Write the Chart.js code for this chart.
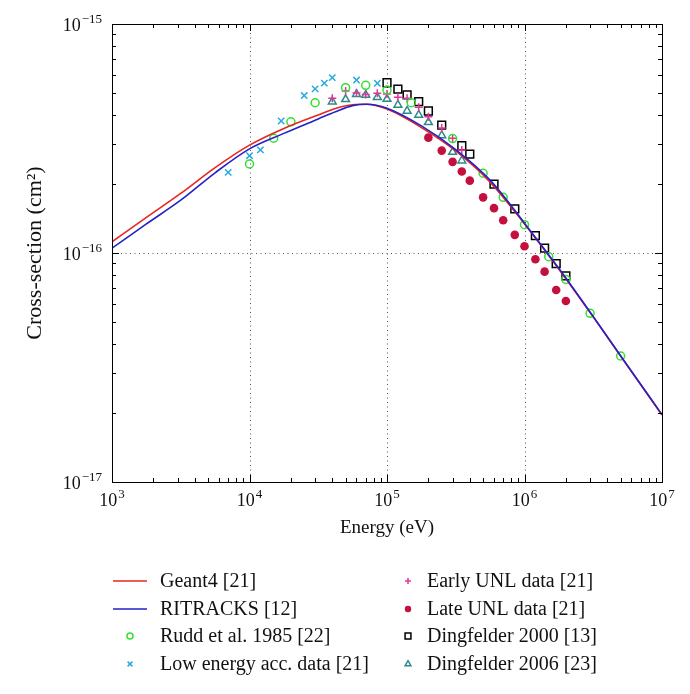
<!DOCTYPE html>
<html lang="en">
<head>
    <meta charset="UTF-8">
    <title>Ionization cross-section vs energy</title>
    <script src="https://cdn.jsdelivr.net/npm/chart.js"></script>
    <style>
        body { margin: 0; background: #fff; }
        #wrap { width: 690px; height: 694px; }
    </style>
</head>
<body>
<div id="wrap"><canvas id="xsChart" width="690" height="694"></canvas></div>
<script>
    // --- Data (energy in eV, cross-section in cm^2) ---
    const curveEnergy = [1e3, 1.78e3, 3.16e3, 5.62e3, 1e4, 1.78e4, 3.16e4, 4.22e4, 5.62e4, 7.08e4, 1e5, 1.78e5, 3.16e5, 5.62e5, 1e6, 1.78e6, 3.16e6, 5.62e6, 1e7];
    const geant4XS = [1.12e-16, 1.43e-16, 1.82e-16, 2.36e-16, 2.96e-16, 3.50e-16, 4.01e-16, 4.28e-16, 4.44e-16, 4.46e-16, 4.25e-16, 3.53e-16, 2.79e-16, 2.04e-16, 1.34e-16, 8.5e-17, 5.26e-17, 3.21e-17, 1.96e-17];
    const ritracksXS = [1.05e-16, 1.34e-16, 1.70e-16, 2.24e-16, 2.85e-16, 3.33e-16, 3.85e-16, 4.14e-16, 4.40e-16, 4.46e-16, 4.29e-16, 3.59e-16, 2.83e-16, 2.08e-16, 1.35e-16, 8.55e-17, 5.28e-17, 3.22e-17, 1.97e-17];

    const ruddE = [1e4, 1.5e4, 2e4, 3e4, 5e4, 7e4, 1e5, 1.5e5, 3e5, 5e5, 7e5, 1e6, 1.5e6, 2e6, 3e6, 5e6];
    const ruddXS = [2.45e-16, 3.17e-16, 3.74e-16, 4.53e-16, 5.27e-16, 5.40e-16, 5.15e-16, 4.53e-16, 3.16e-16, 2.23e-16, 1.75e-16, 1.33e-16, 9.64e-17, 7.67e-17, 5.45e-17, 3.55e-17];

    const lowAccE = [7e3, 1e4, 1.2e4, 1.7e4, 2.5e4, 3e4, 3.5e4, 4e4, 6e4, 8.5e4];
    const lowAccXS = [2.25e-16, 2.66e-16, 2.82e-16, 3.77e-16, 4.87e-16, 5.21e-16, 5.52e-16, 5.83e-16, 5.69e-16, 5.51e-16];

    const earlyUnlE = [4e4, 5e4, 6e4, 7e4, 8.5e4, 1e5, 1.2e5, 1.4e5, 1.7e5, 2e5, 2.5e5, 3e5, 3.5e5];
    const earlyUnlXS = [4.74e-16, 5.10e-16, 5.00e-16, 4.92e-16, 4.98e-16, 4.95e-16, 4.79e-16, 4.74e-16, 4.33e-16, 3.94e-16, 3.51e-16, 3.17e-16, 2.82e-16];

    const lateUnlE = [2e5, 2.5e5, 3e5, 3.5e5, 4e5, 5e5, 6e5, 7e5, 8.5e5, 1e6, 1.2e6, 1.4e6, 1.7e6, 2e6];
    const lateUnlXS = [3.19e-16, 2.80e-16, 2.50e-16, 2.27e-16, 2.07e-16, 1.75e-16, 1.57e-16, 1.39e-16, 1.20e-16, 1.07e-16, 9.39e-17, 8.29e-17, 6.89e-17, 6.17e-17];

    const ding2000E = [1e5, 1.2e5, 1.4e5, 1.7e5, 2e5, 2.5e5, 3.5e5, 4e5, 6e5, 8.5e5, 1.2e6, 1.4e6, 1.7e6, 2e6];
    const ding2000XS = [5.54e-16, 5.19e-16, 4.90e-16, 4.58e-16, 4.17e-16, 3.62e-16, 2.94e-16, 2.70e-16, 2.00e-16, 1.56e-16, 1.19e-16, 1.05e-16, 8.98e-17, 7.94e-17];

    const ding2006E = [4e4, 5e4, 6e4, 7e4, 8.5e4, 1e5, 1.2e5, 1.4e5, 1.7e5, 2e5, 2.5e5, 3e5, 3.5e5];
    const ding2006XS = [4.58e-16, 4.69e-16, 4.94e-16, 4.90e-16, 4.79e-16, 4.70e-16, 4.43e-16, 4.17e-16, 4.01e-16, 3.72e-16, 3.26e-16, 2.76e-16, 2.53e-16];

    // tick labels: decades only, written as base + exponent
    const xTickExp = [3, 4, 5, 6, 7];
    const yTickExp = [-17, -16, -15];

    const SERIF = '"Liberation Serif", "DejaVu Serif", serif';

    function pts(xs, ys) {
        return xs.map((x, i) => ({ x: x, y: ys[i] }));
    }

    function supText(n) {
        return String(n).replace('-', '\u2212');
    }

    // "10" with a raised exponent, anchored centre or right
    function drawPow(ctx, exp, x, y, align) {
        ctx.font = '18px ' + SERIF;
        const wb = ctx.measureText('10').width;
        ctx.font = '13px ' + SERIF;
        const e = supText(exp);
        const we = ctx.measureText(e).width;
        const x0 = align === 'right' ? x - wb - we - 1 : x - (wb + we + 1) / 2;
        ctx.textAlign = 'left';
        ctx.textBaseline = 'alphabetic';
        ctx.font = '18px ' + SERIF;
        ctx.fillText('10', x0, y);
        ctx.font = '13px ' + SERIF;
        ctx.fillText(e, x0 + wb + 1, y - 8);
    }

    // --- Frame, inside ticks, dotted decade grid, labels and legend ---
    const framePlugin = {
        id: 'frame',
        beforeDatasetsDraw(chart) {
            const { ctx, chartArea: a, scales: { x, y } } = chart;
            ctx.save();
            ctx.strokeStyle = '#555';
            ctx.lineWidth = 1;
            ctx.setLineDash([1, 3.5]);
            xTickExp.slice(1, -1).forEach(p => {
                const px = Math.round(x.getPixelForValue(Math.pow(10, p))) + 0.5;
                ctx.beginPath(); ctx.moveTo(px, a.top); ctx.lineTo(px, a.bottom); ctx.stroke();
            });
            yTickExp.slice(1, -1).forEach(p => {
                const py = Math.round(y.getPixelForValue(Math.pow(10, p))) + 0.5;
                ctx.beginPath(); ctx.moveTo(a.left, py); ctx.lineTo(a.right, py); ctx.stroke();
            });
            ctx.restore();
        },
        afterDraw(chart) {
            const { ctx, chartArea: a, scales: { x, y } } = chart;
            ctx.save();
            ctx.strokeStyle = '#000';
            ctx.lineWidth = 1;
            ctx.setLineDash([]);
            ctx.strokeRect(Math.round(a.left) + 0.5, Math.round(a.top) + 0.5,
                Math.round(a.right - a.left), Math.round(a.bottom - a.top));

            // minor/major ticks on all four sides, pointing inward
            ctx.beginPath();
            for (let p = xTickExp[0]; p < xTickExp[xTickExp.length - 1] + 1; p++) {
                for (let k = 1; k <= 9; k++) {
                    const v = k * Math.pow(10, p);
                    if (v > x.max * 1.0001) break;
                    const len = k === 1 ? 7 : 4;
                    const px = Math.round(x.getPixelForValue(v)) + 0.5;
                    ctx.moveTo(px, a.bottom); ctx.lineTo(px, a.bottom - len);
                    ctx.moveTo(px, a.top); ctx.lineTo(px, a.top + len);
                }
            }
            for (let p = yTickExp[0]; p < yTickExp[yTickExp.length - 1] + 1; p++) {
                for (let k = 1; k <= 9; k++) {
                    const v = k * Math.pow(10, p);
                    if (v > y.max * 1.0001) break;
                    const len = k === 1 ? 7 : 4;
                    const py = Math.round(y.getPixelForValue(v)) + 0.5;
                    ctx.moveTo(a.left, py); ctx.lineTo(a.left + len, py);
                    ctx.moveTo(a.right, py); ctx.lineTo(a.right - len, py);
                }
            }
            ctx.stroke();

            // tick labels
            ctx.fillStyle = '#111';
            xTickExp.forEach(p => drawPow(ctx, p, x.getPixelForValue(Math.pow(10, p)), a.bottom + 24, 'center'));
            yTickExp.forEach(p => drawPow(ctx, p, a.left - 10, y.getPixelForValue(Math.pow(10, p)) + 7, 'right'));

            // axis titles
            ctx.font = '19px ' + SERIF;
            ctx.textAlign = 'center';
            ctx.fillText('Energy (eV)', (a.left + a.right) / 2, 533);
            ctx.save();
            ctx.translate(41, (a.top + a.bottom) / 2);
            ctx.rotate(-Math.PI / 2);
            ctx.font = '22px ' + SERIF;
            ctx.fillText('Cross-section (cm\u00B2)', 0, 0);
            ctx.restore();

            // legend in two columns of four
            const cols = [{ mark: 130, text: 160 }, { mark: 408, text: 427 }];
            const rows = [581, 609, 636, 664];
            chart.data.datasets.forEach((ds, i) => {
                const c = cols[Math.floor(i / 4)];
                const ry = rows[i % 4];
                ctx.strokeStyle = ds.borderColor;
                ctx.lineWidth = ds.borderWidth;
                if (ds.showLine) {
                    ctx.beginPath(); ctx.moveTo(c.mark - 17, ry); ctx.lineTo(c.mark + 17, ry); ctx.stroke();
                } else {
                    ctx.fillStyle = ds.backgroundColor;
                    Chart.helpers.drawPoint(ctx, {
                        pointStyle: ds.pointStyle,
                        radius: ds.pointRadius * 0.75,
                        borderWidth: ds.borderWidth,
                        rotation: 0
                    }, c.mark, ry);
                }
                ctx.fillStyle = '#111';
                ctx.font = '20px ' + SERIF;
                ctx.textAlign = 'left';
                ctx.fillText(ds.label, c.text, ry + 6);
            });
            ctx.restore();
        }
    };

    function lineSet(label, color, data) {
        return {
            label: label, data: data, showLine: true, borderColor: color,
            backgroundColor: color, borderWidth: 1.6, pointRadius: 0,
            cubicInterpolationMode: 'monotone'
        };
    }

    function markSet(label, color, data, style, r, filled) {
        return {
            label: label, data: data, showLine: false, pointStyle: style,
            pointRadius: r, borderColor: color, borderWidth: filled ? 0 : 1.5,
            backgroundColor: filled ? color : 'rgba(0,0,0,0)',
            pointBackgroundColor: filled ? color : 'rgba(0,0,0,0)'
        };
    }

    const datasets = [
        lineSet('Geant4 [21]', '#e8261e', pts(curveEnergy, geant4XS)),
        lineSet('RITRACKS [12]', '#2222c8', pts(curveEnergy, ritracksXS)),
        markSet('Rudd et al. 1985 [22]', '#33e033', pts(ruddE, ruddXS), 'circle', 4),
        markSet('Low energy acc. data [21]', '#2aa8e0', pts(lowAccE, lowAccXS), 'crossRot', 4.5),
        markSet('Early UNL data [21]', '#e0369a', pts(earlyUnlE, earlyUnlXS), 'cross', 4),
        markSet('Late UNL data [21]', '#c4103e', pts(lateUnlE, lateUnlXS), 'circle', 4.3, true),
        markSet('Dingfelder 2000 [13]', '#000000', pts(ding2000E, ding2000XS), 'rect', 5.5),
        markSet('Dingfelder 2006 [23]', '#2b8a8a', pts(ding2006E, ding2006XS), 'triangle', 4.5)
    ];
    datasets[1].order = 0;
    datasets[0].order = 1;
    datasets.slice(2).forEach(d => { d.order = 2; });

    new Chart(document.getElementById('xsChart'), {
        type: 'scatter',
        data: { datasets: datasets },
        options: {
            responsive: false,
            animation: false,
            layout: { padding: { left: 112, top: 24, right: 28, bottom: 212 } },
            scales: {
                x: { type: 'logarithmic', min: 1e3, max: 1e7, display: false },
                y: { type: 'logarithmic', min: 1e-17, max: 1e-15, display: false }
            },
            plugins: {
                legend: { display: false },
                tooltip: { enabled: false }
            }
        },
        plugins: [framePlugin]
    });
</script>
</body>
</html>
